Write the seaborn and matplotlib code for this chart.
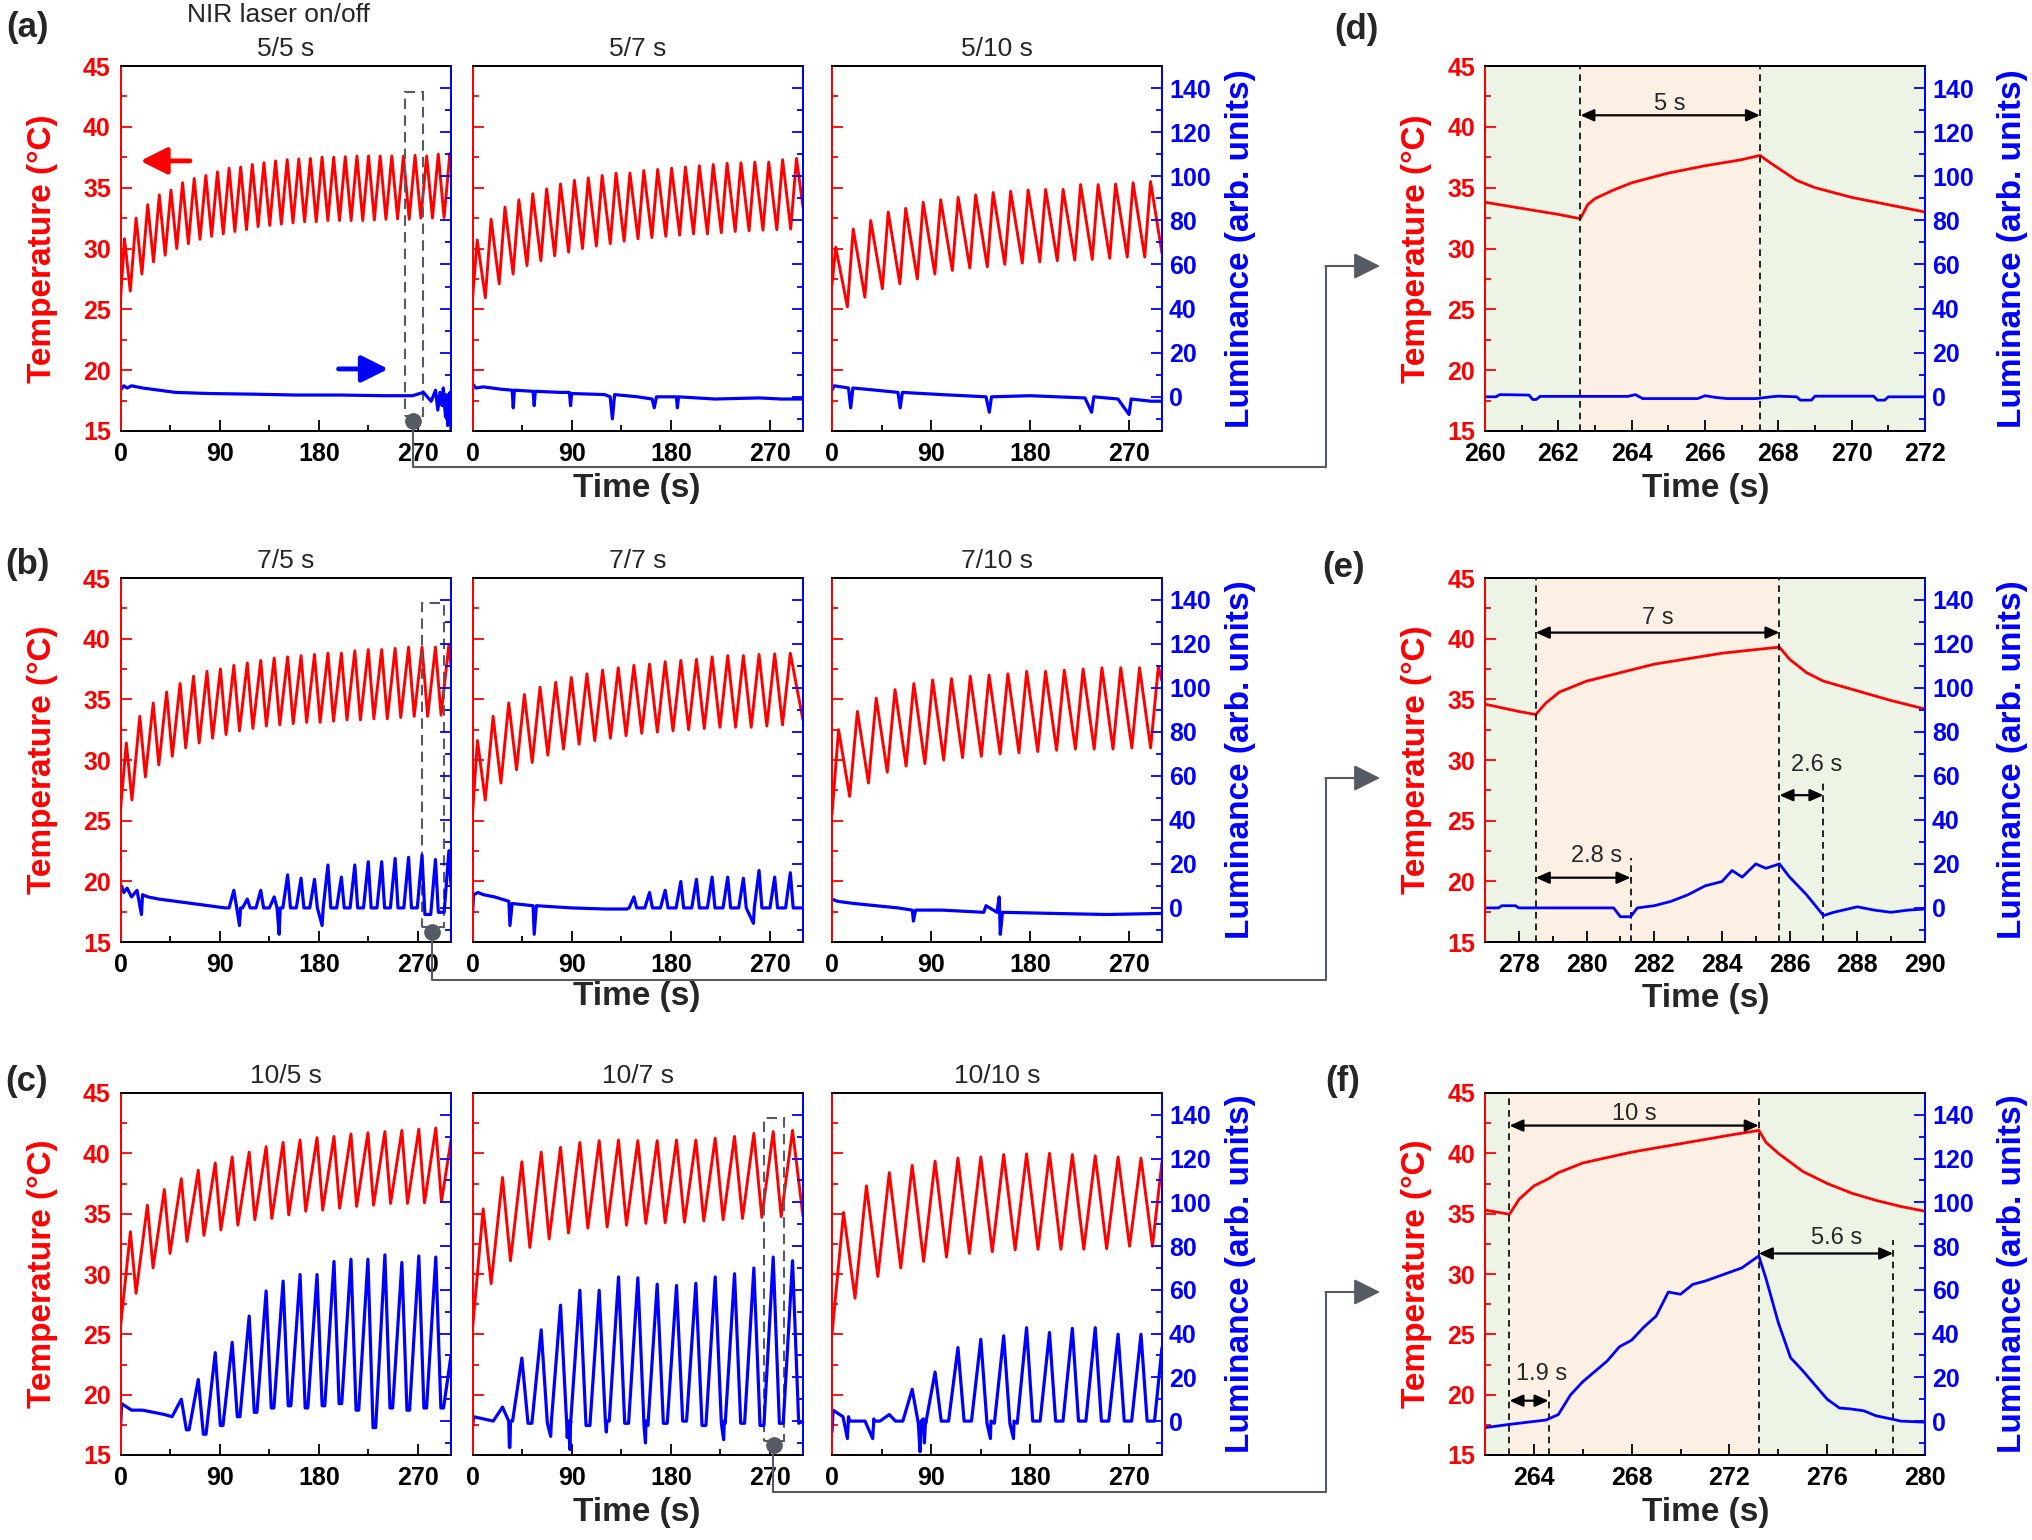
import numpy as np
import pandas as pd
import matplotlib
matplotlib.use("Agg")
import matplotlib.pyplot as plt
import seaborn as sns
from matplotlib.ticker import MultipleLocator
from matplotlib.patches import Rectangle, FancyArrowPatch
from matplotlib.lines import Line2D

# ---------------------------------------------------------------- data
# Temperature: per-cycle peak (end of laser-on) and trough (end of laser-off) values, deg C
T55_PK = [30.8, 32.5, 33.6, 34.4, 34.8, 35.4, 35.75, 36.0, 36.3, 36.6, 36.7, 36.9, 37.05, 37.2, 37.3,
          37.35, 37.4, 37.5, 37.5, 37.55, 37.6, 37.6, 37.6, 37.6, 37.6, 37.65, 37.6, 37.75, 37.8]
T55_TR = [26.5, 27.9, 28.9, 29.45, 30.0, 30.4, 30.75, 31.0, 31.2, 31.4, 31.55, 31.8, 31.9, 32.0, 32.1,
          32.2, 32.2, 32.3, 32.3, 32.3, 32.3, 32.35, 32.4, 32.45, 32.4, 32.5, 32.5, 32.55]
T57_PK = [30.7, 32.4, 33.4, 34.0, 34.5, 34.9, 35.3, 35.6, 35.8, 36.0, 36.2, 36.2, 36.4, 36.5, 36.6,
          36.7, 36.8, 36.9, 37.0, 37.05, 37.1, 37.1, 37.3, 37.4]
T57_TR = [25.95, 27.1, 27.9, 28.6, 29.0, 29.4, 29.7, 30.0, 30.2, 30.4, 30.6, 30.8, 30.9, 31.0, 31.1,
          31.2, 31.2, 31.3, 31.4, 31.45, 31.5, 31.55, 31.6]
T510_PK = [30.1, 31.6, 32.3, 33.0, 33.3, 33.8, 34.0, 34.2, 34.4, 34.6, 34.7, 34.8, 34.85, 34.85, 35.25,
           35.25, 35.3, 35.4, 35.5]
T510_TR = [25.2, 26.0, 26.7, 27.1, 27.5, 27.9, 28.2, 28.4, 28.5, 28.7, 28.8, 28.9, 29.0, 29.05, 29.1,
           29.2, 29.3, 29.3]
T75_PK = [31.4, 33.6, 34.7, 35.6, 36.3, 36.9, 37.3, 37.5, 37.8, 38.0, 38.2, 38.4, 38.5, 38.6, 38.7,
          38.8, 38.8, 39.0, 39.1, 39.1, 39.2, 39.3, 39.3, 39.3, 39.5]
T75_TR = [26.7, 28.6, 29.6, 30.3, 31.0, 31.4, 31.8, 32.1, 32.4, 32.6, 32.8, 32.9, 33.0, 33.1, 33.1,
          33.2, 33.3, 33.3, 33.4, 33.4, 33.5, 33.6, 33.6, 33.7]
T77_PK = [31.6, 33.6, 34.7, 35.4, 36.0, 36.4, 36.8, 37.1, 37.4, 37.6, 37.8, 37.9, 38.1, 38.2, 38.3,
          38.5, 38.6, 38.6, 38.7, 38.75, 38.8]
T77_TR = [26.7, 28.1, 29.2, 29.8, 30.4, 30.9, 31.3, 31.6, 31.8, 32.0, 32.2, 32.3, 32.4, 32.5, 32.6,
          32.7, 32.7, 32.7, 32.8, 32.9]
T710_PK = [32.5, 34.0, 35.1, 35.8, 36.3, 36.6, 36.7, 36.9, 37.0, 37.1, 37.3, 37.3, 37.4, 37.5, 37.6,
           37.6, 37.6, 37.7]
T710_TR = [27.0, 28.1, 29.0, 29.5, 29.7, 30.0, 30.2, 30.3, 30.5, 30.6, 30.7, 30.8, 30.9, 30.9, 30.9,
           31.0, 31.0]
T105_PK = [33.5, 35.7, 37.0, 37.9, 38.6, 39.2, 39.7, 40.1, 40.55, 40.9, 41.1, 41.3, 41.4, 41.6, 41.7,
           41.8, 41.9, 42.0, 42.1]
T105_TR = [28.4, 30.5, 31.7, 32.7, 33.2, 33.65, 34.05, 34.5, 34.6, 34.9, 35.2, 35.3, 35.45, 35.6, 35.7,
           35.85, 35.85, 35.9, 36.0]
T107_PK = [35.4, 38.0, 39.3, 40.1, 40.5, 40.9, 41.05, 41.1, 41.05, 41.05, 41.1, 41.1, 41.25, 41.4,
           41.65, 41.8, 41.9]
T107_TR = [29.2, 31.1, 32.2, 32.9, 33.4, 33.8, 33.9, 34.05, 34.2, 34.25, 34.3, 34.4, 34.5, 34.6, 34.7,
           34.75]
T1010_PK = [35.1, 37.3, 38.4, 39.0, 39.35, 39.6, 39.7, 39.9, 39.95, 40.0, 39.9, 39.8, 39.7, 39.6]
T1010_TR = [28.0, 29.8, 30.5, 31.05, 31.4, 31.7, 31.85, 32.0, 32.05, 32.05, 32.05, 32.1, 32.3, 32.3]

# Luminance: baseline readings (time, value) and per-cycle luminance peaks / pre-rise lows
L55_T = [0, 3, 6, 10, 20, 35, 50, 80, 120, 160, 200, 240, 265, 275, 282, 286, 288, 290, 292, 293, 295,
         296, 297, 298, 299, 300]
L55_V = [3, 5, 4, 5, 4, 3, 2, 1.5, 1.2, 0.8, 0.8, 0.5, 0.5, 2, -2, 3, -6, 2, -4, 4, -9, 1, -13, -2, 2, -15]
L57_T = [0, 3, 10, 25, 36, 37, 38, 55, 56, 57, 80, 88, 89, 90, 120, 125, 127, 129, 150, 163, 165, 167,
         185, 186, 187, 220, 260, 280, 300]
L57_V = [6, 4, 4.5, 3.5, 3, -5, 3, 2.5, -4, 2.5, 2, 2, -4, 1.5, 1, 0, -10, 1, 0, -1, -5, 0, 0, -5, 0, -1,
         -0.5, -1, -1]
L510_T = [0, 2, 15, 17, 19, 40, 60, 62, 64, 100, 140, 143, 145, 180, 230, 236, 238, 260, 270, 272, 290, 300]
L510_V = [3, 5, 4, -5, 4, 3, 2, -5, 2, 1, 0, -7, 0, 0.5, -0.5, -7, 0, -1, -8, -1, -2, -2]
L75_T = [0, 1, 3, 6, 10, 15, 19, 20, 25, 35, 50, 65, 80, 95, 108, 109, 125, 144, 145, 160, 183, 184, 200,
         230, 300]
L75_V = [8, 10, 7, 9, 5, 8, -3, 6, 5, 4, 3, 2, 1, 0, -8, 0, 0, -12, 0, 0, -8, 0, 0, 0, 0]
L75_PK = [8, 4, 8, 5, 15, 13.5, 13, 19.5, 14, 19.5, 21, 21, 22.5, 23, 24, 22, 26]
L75_LO = [0, 0, 0, 0, 0, 0, 0, 0, 0, 0, 0, 0, 0, 0, 0, -3, -2]
L77_T = [0, 1, 5, 10, 20, 33, 34, 36, 55, 56, 58, 90, 120, 140, 200, 255, 256, 300]
L77_V = [-3, 6, 7, 6, 5, 3, -8, 2, 1, -12, 1, 0, -0.5, -0.5, 0, -7, 0, 0]
L77_PK = [5, 7, 8, 12, 13, 14, 14, 13.5, 17, 14, 16]
L77_LO = [0, 0, 0, 0, 0, 0, 0, 0, 0, 0, 0]
L710_T = [0, 5, 20, 40, 60, 73, 74, 76, 100, 138, 140, 150, 152, 153, 155, 200, 250, 300]
L710_V = [4, 3, 2, 1, 0, -1, -6, -1, -1, -2, 1, -2, 5, -12, -2, -2.5, -3, -2.5]
L105_T = [0, 1, 10, 20, 30, 40, 300]
L105_V = [-3, 8, 5, 5, 4, 3, 5]
L105_PK = [10, 19, 31.3, 36, 48, 59.5, 64, 67, 67, 73, 74, 74, 76, 72.5, 75.5, 75, 76]
L105_LO = [2, -4, -6, -2, 2, 4, 6, 7, 6, 7, 8, 5, -3, 6, 5, 6, 6]
L107_T = [0, 1, 10, 20, 33.5, 34, 34.5, 71, 72, 86, 87, 88.5, 89, 121.5, 122, 157, 157.5, 228, 228.5, 300]
L107_V = [-3, 2, 1, 0.5, -12, -12, 0, -7, 0, -7.5, 0, -13, 0, -5, 0, -10, 0, -8.5, 0, 0]
L107_PK = [6.4, 28.8, 41.7, 53, 59.8, 59.8, 65.9, 65.5, 62.6, 62, 63, 65.9, 67.4, 70, 75, 73.3]
L107_LO = [0, 0, -1, -1, -1, -2, 0, -1, -2, -1, 0, -2, -1, -1, -2, -1]
L1010_T = [0, 1, 10, 14, 15, 16, 30, 37, 38, 39, 50, 53, 54, 55, 80, 81, 83, 84, 85, 144, 144.5, 165,
           165.5, 300]
L1010_V = [-5, 5, 2, -8, 2, 0, 0, -8, 1, 0, 0, -10, 0, 0, -14, 0, 1, -10, 0, -8, 0, -8, 0, 0]
L1010_PK = [3, 14.5, 22.4, 33.6, 37.4, 39, 42.7, 40.5, 42.4, 42.7, 39.7, 39.7, 40]
L1010_LO = [0, 0, -1, 0, 0, -1, -1, 0, 0, 0, 0, 0, 0]

# Zoomed single cycles (d), (e), (f)
D_T = [260, 261, 262, 262.6, 262.8, 263.0, 263.5, 264, 265, 266, 267, 267.5, 267.8, 268.5, 269, 270, 271, 272]
D_TEMP = [33.8, 33.3, 32.8, 32.45, 33.6, 34.1, 34.8, 35.4, 36.2, 36.8, 37.3, 37.65, 37.0, 35.6, 35.0, 34.2,
          33.6, 33.0]
D_LT = [260, 260.3, 260.4, 261.2, 261.3, 261.4, 261.5, 263.9, 264.1, 264.3, 265.8, 266.0, 266.3, 266.6,
        267.4, 267.8, 268.0, 268.5, 268.6, 268.9, 269.0, 270.6, 270.7, 270.9, 271.0, 272]
D_LUM = [0, 0, 1, 0.8, -1.2, -1.2, 0.2, 0.2, 1, -0.8, -0.8, 0.5, -0.3, -0.8, -0.8, 0, 0.3, 0, -1.5, -1.5,
         0.3, 0.3, -1.5, -1.5, 0, 0]
E_T = [277, 278, 278.5, 278.8, 279.2, 280, 281, 282, 283, 284, 285, 285.7, 286, 286.5, 287, 288, 289, 290]
E_TEMP = [34.6, 34.0, 33.75, 34.7, 35.6, 36.5, 37.2, 37.9, 38.35, 38.8, 39.1, 39.3, 38.3, 37.2, 36.5, 35.7,
          34.9, 34.2]
E_LT = [277, 277.4, 277.5, 277.9, 278.0, 280.8, 281.0, 281.3, 281.5, 282.0, 282.5, 283.0, 283.5, 284.0,
        284.3, 284.6, 285.0, 285.3, 285.7, 286.0, 286.5, 287.0, 287.3, 288.0, 288.5, 289.0, 289.5, 290]
E_LUM = [0, 0, 1, 1, 0, 0, -4, -4, 0, 1, 3, 6, 10, 12, 17, 14, 20, 18, 20, 14, 6, -3.5, -2, 0.5, -1, -2,
         -1, -0.5]
F_T = [262, 263.0, 263.4, 264, 264.6, 265, 266, 268, 270, 272, 273.2, 273.5, 274, 275, 276, 277, 278, 279, 280]
F_TEMP = [35.3, 34.95, 36.2, 37.3, 37.9, 38.4, 39.2, 40.1, 40.8, 41.5, 41.9, 40.9, 40.0, 38.5, 37.5, 36.7,
          36.1, 35.6, 35.2]
F_LT = [262, 263, 264.5, 265, 265.5, 266, 267, 267.5, 268, 268.5, 269, 269.5, 270, 270.5, 271, 271.5, 272,
        272.5, 273.2, 273.5, 274, 274.5, 275, 275.5, 276, 276.5, 277, 277.5, 278, 278.7, 279, 280]
F_LUM = [-3, -1.5, 0.5, 3, 12, 18, 27.5, 34, 37, 43, 48, 59, 58, 62.5, 64, 66, 68, 70, 75.5, 65, 45, 29, 23,
         16.5, 10, 6, 5.5, 4.7, 2.4, 0.8, 0, -0.5]

TITLES = [["5/5 s", "5/7 s", "5/10 s"], ["7/5 s", "7/7 s", "7/10 s"], ["10/5 s", "10/7 s", "10/10 s"]]

# ---------------------------------------------------------------- helpers
def temp_series(p0, P, duty, start, pk, tr, end):
    off = P * (1 - duty)
    pts = [(0.0, start)]
    for k, val in enumerate(pk):
        tp = p0 + k * P
        pts.append((tp, val))
        if k < len(tr):
            pts.append((tp + off, tr[k]))
    pts = [p for p in pts if p[0] < 300] + [(300.0, end)]
    return pd.DataFrame(pts, columns=["t", "v"])


def lum_series(bt, bv, p0=0, P=1, duty=0.5, k0=0, pks=(), los=(), delay=0, fall=0, end=None):
    on = P * duty
    off = P - on
    fl = min(fall, 0.9 * off)
    pts, wins = [], []
    for i, pk in enumerate(pks):
        tp = p0 + (k0 + i) * P
        ts, te = tp - on + delay, tp + fl
        nxt = los[i + 1] if i + 1 < len(los) else los[i]
        pts += [(ts, los[i]), (tp, pk), (te, nxt)]
        wins.append((ts, te))
    for t, v in zip(bt, bv):
        if not any(a <= t <= b for a, b in wins):
            pts.append((t, v))
    pts = sorted(pts)
    if end is not None:
        pts = [p for p in pts if p[0] < 300] + [(300.0, end)]
    else:
        pts = [p for p in pts if p[0] <= 300]
    return pd.DataFrame(pts, columns=["t", "v"])


# ---------------------------------------------------------------- style
sns.set_theme(style="ticks")
plt.rcParams["font.family"] = ["Liberation Sans", "DejaVu Sans"]
plt.rcParams["font.weight"] = "bold"
plt.rcParams["axes.linewidth"] = 1.4

W, H = 2032, 1540
fig = plt.figure(figsize=(W / 100, H / 100), dpi=100)
fig.patch.set_facecolor("white")

def rect(x0, y0, x1, y1):
    return [x0 / W, 1 - y1 / H, (x1 - x0) / W, (y1 - y0) / H]

def fxy(x, y):
    return (x / W, 1 - y / H)

ROWS_Y = [(66, 431), (578, 942), (1093, 1455)]
COLS_X = [(120.5, 451), (472.5, 803), (832, 1162)]
RIGHT_X = (1485, 1925)
RED, BLUE = "#ff0000", "#0000ff"
TICK_FS, LAB_FS, TIT_FS, LET_FS, ANN_FS = 18, 24, 19, 25, 17


def style(ax, tw, show_left, show_right, xlim, xmaj, xmin):
    ax.set_xlim(*xlim)
    ax.set_ylim(15, 45)
    tw.set_ylim(-15.5, 150)
    ax.xaxis.set_major_locator(MultipleLocator(xmaj))
    ax.xaxis.set_minor_locator(MultipleLocator(xmin))
    ax.yaxis.set_major_locator(MultipleLocator(5))
    ax.yaxis.set_minor_locator(MultipleLocator(2.5))
    tw.yaxis.set_major_locator(MultipleLocator(20))
    tw.yaxis.set_minor_locator(MultipleLocator(10))
    ax.tick_params(axis="x", which="both", direction="in", colors="black", top=False, bottom=True,
                   labelsize=TICK_FS, pad=8, width=1.3)
    ax.tick_params(axis="y", which="both", direction="in", colors=RED, left=True, right=False,
                   labelleft=show_left, labelsize=TICK_FS, pad=7, width=1.3)
    tw.tick_params(axis="y", which="both", direction="in", colors=BLUE, right=True, left=False,
                   labelright=show_right, labelsize=TICK_FS, pad=5, width=1.3)
    for a in (ax, tw):
        a.tick_params(which="major", length=8)
        a.tick_params(which="minor", length=4.5)
        a.spines["left"].set_color(RED)
        a.spines["right"].set_color(BLUE)
        a.spines["top"].set_color("black")
        a.spines["bottom"].set_color("black")
        for s in a.spines.values():
            s.set_visible(True)
            s.set_linewidth(1.4)
        a.set_xlabel("")
        a.set_ylabel("")


def line(ax, df, color, lw):
    sns.lineplot(data=df, x="t", y="v", ax=ax, color=color, lw=lw, estimator=None,
                 sort=False, legend=False)


# ---------------------------------------------------------------- left grids
T_SPEC = [
    [(3.6, 10.55, 5 / 10, 25.8, T55_PK, T55_TR, 37.0),
     (4.3, 12.6, 5 / 12, 25.8, T57_PK, T57_TR, 33.4),
     (3.4, 15.9, 5 / 15, 27.0, T510_PK, T510_TR, 29.6)],
    [(5.3, 12.2, 7 / 12, 25.9, T75_PK, T75_TR, 37.8),
     (4.5, 14.2, 7 / 14, 25.5, T77_PK, T77_TR, 33.3),
     (6.0, 17.1, 7 / 17, 25.5, T710_PK, T710_TR, 36.5)],
    [(9.0, 15.4, 10 / 15, 25.6, T105_PK, T105_TR, 41.1),
     (9.7, 17.55, 10 / 17, 25.4, T107_PK, T107_TR, 34.8),
     (10.5, 20.8, 10 / 20, 25.0, T1010_PK, T1010_TR, 39.3)],
]
L_SPEC = [
    [dict(bt=L55_T, bv=L55_V), dict(bt=L57_T, bv=L57_V), dict(bt=L510_T, bv=L510_V)],
    [dict(bt=L75_T, bv=L75_V, k0=8, pks=L75_PK, los=L75_LO, delay=2.8, fall=2.6, end=10),
     dict(bt=L77_T, bv=L77_V, k0=10, pks=L77_PK, los=L77_LO, delay=2.8, fall=2.6, end=0),
     dict(bt=L710_T, bv=L710_V)],
    [dict(bt=L105_T, bv=L105_V, k0=3, pks=L105_PK, los=L105_LO, delay=1.9, fall=5.6, end=30),
     dict(bt=L107_T, bv=L107_V, k0=1, pks=L107_PK, los=L107_LO, delay=1.9, fall=5.6, end=0),
     dict(bt=L1010_T, bv=L1010_V, k0=2, pks=L1010_PK, los=L1010_LO, delay=1.9, fall=5.6, end=33.6)],
]

grid_axes = []
for r, (y0, y1) in enumerate(ROWS_Y):
    row = []
    for c, (x0, x1) in enumerate(COLS_X):
        ax = fig.add_axes(rect(x0, y0, x1, y1))
        tw = ax.twinx()
        p0, P, duty, st, pk, tr, en = T_SPEC[r][c]
        line(ax, temp_series(p0, P, duty, st, pk, tr, en), RED, 2.1)
        ls = dict(L_SPEC[r][c])
        if "pks" in ls:
            ls.update(p0=p0, P=P, duty=duty)
        line(tw, lum_series(**ls), BLUE, 2.3)
        style(ax, tw, c == 0, c == 2, (0, 300), 90, 45)
        fig.text((x0 + x1) / 2 / W, 1 - (y0 - 17) / H, TITLES[r][c], ha="center", va="center",
                 fontsize=TIT_FS, fontweight="normal")
        row.append((ax, tw))
    grid_axes.append(row)
    yc = 1 - (y0 + y1) / 2 / H
    fig.text(43 / W, yc, "Temperature (°C)", rotation=90, ha="center", va="center",
             fontsize=LAB_FS, color=RED)
    fig.text(1241 / W, yc, "Luminance (arb. units)", rotation=90, ha="center", va="center",
             fontsize=LAB_FS, color=BLUE)

fig.text(*fxy(278, 15), "NIR laser on/off", ha="center", va="center",
         fontsize=TIT_FS, fontweight="normal")
for yc in (488, 997, 1512):
    fig.text(*fxy(637, yc), "Time (s)", ha="center", va="center", fontsize=LAB_FS)
for s, (x, y) in zip(["(a)", "(b)", "(c)"], [(27, 27), (27, 565), (27, 1081)]):
    fig.text(*fxy(x, y), s, ha="center", va="center", fontsize=LET_FS)

# arrows in (a)
ax_a = grid_axes[0][0][0]
ax_a.annotate("", xy=(18, 37.2), xytext=(63, 37.2),
              arrowprops=dict(arrowstyle="-|>,head_length=0.9,head_width=0.45", color=RED, lw=3.5,
                              mutation_scale=18, shrinkA=0, shrinkB=0))
ax_a.annotate("", xy=(243, 20.1), xytext=(198, 20.1),
              arrowprops=dict(arrowstyle="-|>,head_length=0.9,head_width=0.45", color=BLUE, lw=3.5,
                              mutation_scale=18, shrinkA=0, shrinkB=0))

# dashed zoom boxes, markers and connectors
GREY = "#555a63"
BOXES = [((0, 0), 258, 274.5, 265.5), ((1, 0), 273.6, 293.6, 282.6), ((2, 1), 265, 282.7, 273.6)]
CONNECT = [
    [(413, 421), (413, 467), (1325.5, 467), (1325.5, 266)],
    [(432, 933), (432, 980), (1325.5, 980), (1325.5, 778)],
    [(773, 1445), (773, 1492), (1325.5, 1492), (1325.5, 1292)],
]
for ((r, c), xa, xb, xm), path in zip(BOXES, CONNECT):
    ax = grid_axes[r][c][0]
    ax.add_patch(Rectangle((xa, 16.2), xb - xa, 42.9 - 16.2, fill=False, ec=GREY, lw=1.5,
                           ls=(0, (5, 3)), zorder=5))
    ax.plot([xm], [15.85], "o", ms=11, color=GREY, clip_on=False, zorder=6)
    xs = [p[0] / W for p in path]
    ys = [1 - p[1] / H for p in path]
    fig.add_artist(Line2D(xs, ys, transform=fig.transFigure, color=GREY, lw=1.5))
    fig.add_artist(FancyArrowPatch(fxy(*path[-1]), fxy(1380, path[-1][1]), transform=fig.transFigure,
                                   arrowstyle="-|>,head_length=0.9,head_width=0.45", mutation_scale=18,
                                   color=GREY, lw=1.5, shrinkA=0, shrinkB=0))

# ---------------------------------------------------------------- right panels
GREEN, PEACH = "#edf4e6", "#fcefe4"
R_SPEC = [
    dict(xlim=(260, 272), xmaj=2, xmin=1, on=(262.6, 267.5), t=D_T, temp=D_TEMP, lt=D_LT, lum=D_LUM,
         label="(d)", lab_xy=(1356, 30)),
    dict(xlim=(277, 290), xmaj=2, xmin=1, on=(278.5, 285.7), t=E_T, temp=E_TEMP, lt=E_LT, lum=E_LUM,
         label="(e)", lab_xy=(1344, 568)),
    dict(xlim=(262, 280), xmaj=4, xmin=2, on=(263.0, 273.2), t=F_T, temp=F_TEMP, lt=F_LT, lum=F_LUM,
         label="(f)", lab_xy=(1343, 1081)),
]
right_axes = []
for r, spec in enumerate(R_SPEC):
    y0, y1 = ROWS_Y[r]
    ax = fig.add_axes(rect(RIGHT_X[0], y0, RIGHT_X[1], y1))
    tw = ax.twinx()
    a, b = spec["on"]
    ax.axvspan(spec["xlim"][0], a, color=GREEN, lw=0, zorder=0)
    ax.axvspan(a, b, color=PEACH, lw=0, zorder=0)
    ax.axvspan(b, spec["xlim"][1], color=GREEN, lw=0, zorder=0)
    line(ax, pd.DataFrame({"t": spec["t"], "v": spec["temp"]}), RED, 2.0)
    line(tw, pd.DataFrame({"t": spec["lt"], "v": spec["lum"]}), BLUE, 2.0)
    style(ax, tw, True, True, spec["xlim"], spec["xmaj"], spec["xmin"])
    if r == 1:
        ax.set_xticks(np.arange(278, 291, 2))
    if r == 2:
        ax.set_xticks(np.arange(264, 281, 4))
    ax.vlines([a, b], 15, 45, colors="black", linestyles=(0, (4, 3)), lw=1.2, zorder=3)
    yc = 1 - (y0 + y1) / 2 / H
    fig.text(1417 / W, yc, "Temperature (°C)", rotation=90, ha="center", va="center",
             fontsize=LAB_FS, color=RED)
    fig.text(2012 / W, yc, "Luminance (arb. units)", rotation=90, ha="center", va="center",
             fontsize=LAB_FS, color=BLUE)
    fig.text(*fxy(1706, [488, 999, 1512][r]), "Time (s)", ha="center", va="center", fontsize=LAB_FS)
    fig.text(*fxy(*spec["lab_xy"]), spec["label"], ha="center", va="center", fontsize=LET_FS)
    right_axes.append(ax)


def dbl(ax, x0, x1, y):
    ax.annotate("", xy=(x1, y), xytext=(x0, y),
                arrowprops=dict(arrowstyle="<|-|>,head_length=0.45,head_width=0.2", color="black",
                                lw=1.6, mutation_scale=18, shrinkA=0, shrinkB=0), zorder=6)


def note(ax, x, y, s):
    ax.text(x, y, s, ha="center", va="center", fontsize=ANN_FS, fontweight="normal", zorder=6)


axd, axe, axf = right_axes
dbl(axd, 262.6, 267.5, 40.95)
note(axd, 265.05, 41.9, "5 s")

dbl(axe, 278.5, 285.7, 40.5)
note(axe, 282.1, 41.7, "7 s")
axe.vlines([281.3], 15, 21.9, colors="black", linestyles=(0, (4, 3)), lw=1.2, zorder=3)
axe.vlines([287.0], 15, 28.4, colors="black", linestyles=(0, (4, 3)), lw=1.2, zorder=3)
dbl(axe, 278.5, 281.3, 20.3)
note(axe, 280.3, 22.1, "2.8 s")
dbl(axe, 285.7, 287.0, 27.1)
note(axe, 286.8, 29.6, "2.6 s")

dbl(axf, 263.0, 273.2, 42.3)
note(axf, 268.1, 43.3, "10 s")
axf.vlines([264.6], 15, 20.5, colors="black", linestyles=(0, (4, 3)), lw=1.2, zorder=3)
axf.vlines([278.7], 15, 32.8, colors="black", linestyles=(0, (4, 3)), lw=1.2, zorder=3)
dbl(axf, 263.0, 264.6, 19.5)
note(axf, 264.3, 21.7, "1.9 s")
dbl(axf, 273.2, 278.7, 31.7)
note(axf, 276.4, 33.0, "5.6 s")

fig.savefig("out.png", dpi=100, facecolor="white")
